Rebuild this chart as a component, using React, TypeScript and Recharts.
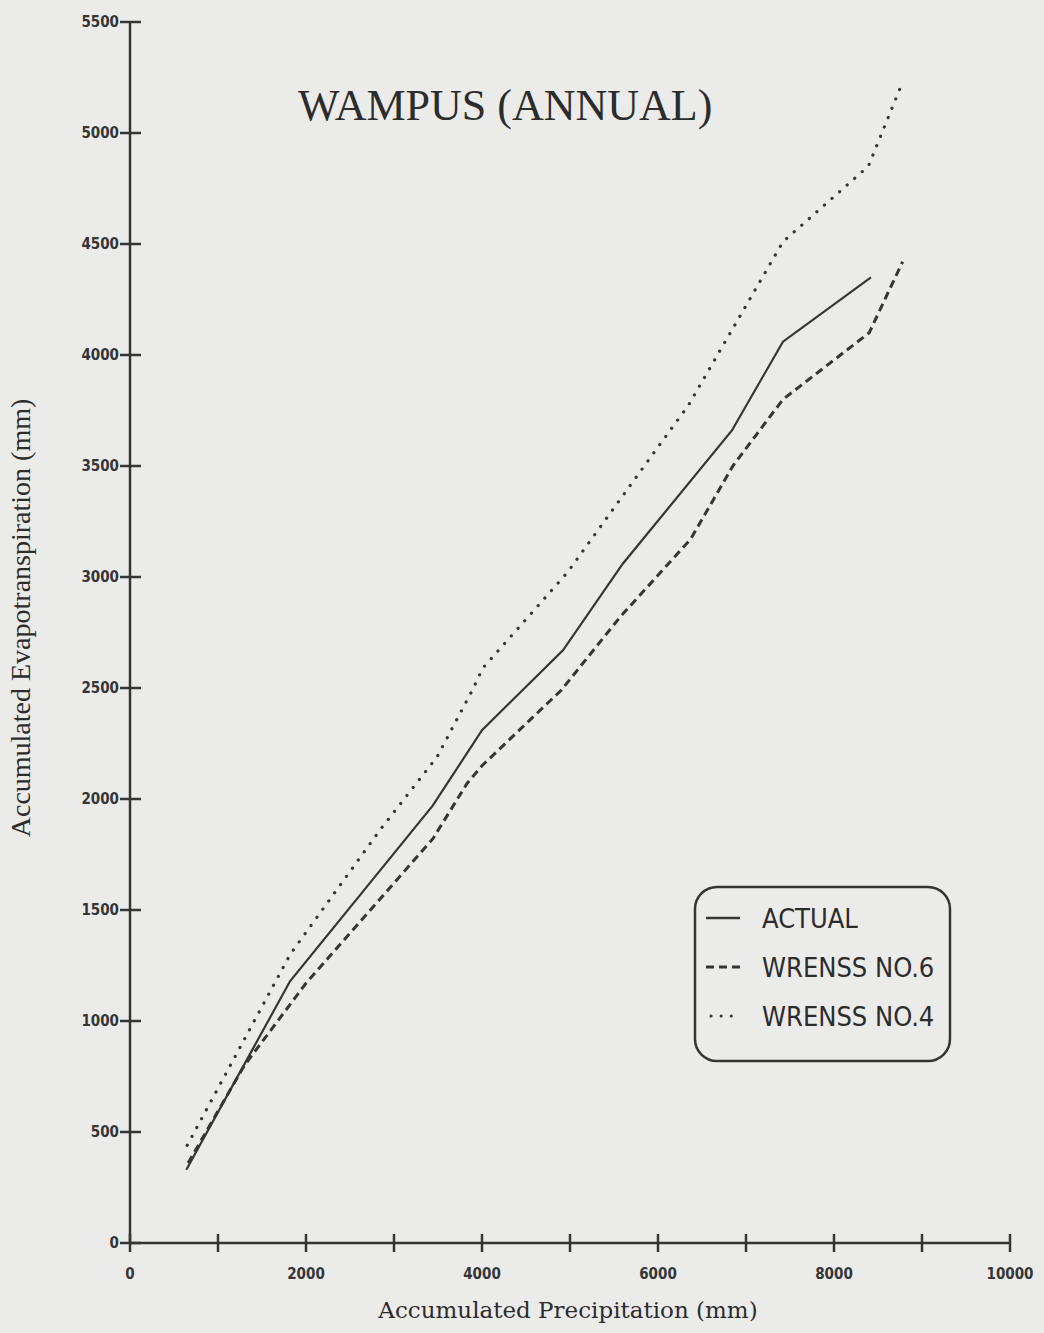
import React from 'react';
import { LineChart, Line, XAxis, YAxis, Label } from 'recharts';

// accumulated precipitation (x) and evapotranspiration (y), mm
const actualPrecip = [640, 1820, 3440, 4000, 4920, 5600, 6840, 7420, 8420];
const actualEt = [330, 1180, 1970, 2310, 2670, 3060, 3660, 4060, 4350];

const wrenss6Precip = [660, 1300, 2000, 3440, 3830, 4000, 4900, 5570, 6370, 6850, 7420, 8400, 8780];
const wrenss6Et = [360, 800, 1170, 1820, 2070, 2150, 2490, 2820, 3170, 3500, 3800, 4100, 4420];

const wrenss4Precip = [650, 1820, 2840, 3490, 3890, 4010, 4970, 5990, 6340, 7420, 8390, 8760];
const wrenss4Et = [440, 1300, 1860, 2190, 2490, 2590, 3020, 3580, 3770, 4510, 4850, 5210];

const xTicks = [0, 1000, 2000, 3000, 4000, 5000, 6000, 7000, 8000, 9000, 10000];
const yTicks = [0, 500, 1000, 1500, 2000, 2500, 3000, 3500, 4000, 4500, 5000, 5500];

const seriesNames = ['ACTUAL', 'WRENSS NO.6', 'WRENSS NO.4'];

const toPoints = (xs: number[], ys: number[]) => xs.map((x, i) => ({ x, y: ys[i] }));

const actualData = toPoints(actualPrecip, actualEt);
const wrenss6Data = toPoints(wrenss6Precip, wrenss6Et);
const wrenss4Data = toPoints(wrenss4Precip, wrenss4Et);

const INK = '#353535';
const BG = '#ebebea';
const NARROW = "'DejaVu Sans Condensed', sans-serif";

const XTick = (props: any) => {
    const { x, y, payload } = props;
    const v = payload.value;
    return (
        <g>
            <line x1={x} x2={x} y1={y - 9} y2={y + 9} stroke={INK} strokeWidth={2.5} />
            {v % 2000 === 0 && (
                <text x={x} y={y + 36} textAnchor="middle" fill={INK}
                    style={{ fontFamily: NARROW, fontWeight: 700, fontSize: 15 }}>
                    {v}
                </text>
            )}
        </g>
    );
};

const YTick = (props: any) => {
    const { x, y, payload } = props;
    return (
        <g>
            <line x1={x - 10} x2={x + 11} y1={y} y2={y} stroke={INK} strokeWidth={2.5} />
            <text x={x - 11} y={y + 5} textAnchor="end" fill={INK}
                style={{ fontFamily: NARROW, fontWeight: 700, fontSize: 15 }}>
                {payload.value}
            </text>
        </g>
    );
};

const App: React.FC = () => {
    return (
        <div style={{ position: 'absolute', left: 0, top: 0, width: 1044, height: 1333, background: BG }}>
            <LineChart width={1044} height={1333} margin={{ top: 22, right: 34, bottom: 30, left: 70 }}>
                <XAxis
                    dataKey="x"
                    type="number"
                    domain={[0, 10000]}
                    ticks={xTicks}
                    interval={0}
                    height={60}
                    tickSize={0}
                    tickMargin={0}
                    tickLine={false}
                    tick={<XTick />}
                    axisLine={{ stroke: INK, strokeWidth: 2.5 }}
                    allowDuplicatedCategory={false}
                >
                    <Label
                        content={() => (
                            <text x={568} y={1318} textAnchor="middle" fill="#2c2c2c"
                                style={{ fontFamily: 'DejaVu Serif', fontSize: 23 }}>
                                Accumulated Precipitation (mm)
                            </text>
                        )}
                    />
                </XAxis>
                <YAxis
                    type="number"
                    domain={[0, 5500]}
                    ticks={yTicks}
                    interval={0}
                    width={60}
                    tickSize={0}
                    tickMargin={0}
                    tickLine={false}
                    tick={<YTick />}
                    axisLine={{ stroke: INK, strokeWidth: 2.5 }}
                >
                    <Label
                        content={() => (
                            <text x={30} y={618} transform="rotate(-90 30 618)" textAnchor="middle" fill="#2c2c2c"
                                style={{ fontFamily: 'Liberation Serif', fontSize: 28 }}>
                                Accumulated Evapotranspiration (mm)
                            </text>
                        )}
                    />
                </YAxis>
                <Line data={actualData} dataKey="y" name={seriesNames[0]} type="linear" stroke={INK}
                    strokeWidth={2.2} dot={false} isAnimationActive={false} />
                <Line data={wrenss6Data} dataKey="y" name={seriesNames[1]} type="linear" stroke={INK}
                    strokeWidth={3} strokeDasharray="8 5" dot={false} isAnimationActive={false} />
                <Line data={wrenss4Data} dataKey="y" name={seriesNames[2]} type="linear" stroke={INK}
                    strokeWidth={3.2} strokeDasharray="0.1 10" strokeLinecap="round" dot={false} isAnimationActive={false} />
            </LineChart>
            <svg width={1044} height={1333} style={{ position: 'absolute', left: 0, top: 0, pointerEvents: 'none' }}>
                <text x={298} y={120} fill="#2c2c2c" style={{ fontFamily: 'Liberation Serif', fontSize: 44 }}>
                    WAMPUS (ANNUAL)
                </text>
                <rect x={695} y={887} width={255} height={174} rx={22} fill="none" stroke={INK} strokeWidth={2.5} />
                <line x1={706} x2={740} y1={918} y2={918} stroke={INK} strokeWidth={2.5} />
                <line x1={706} x2={740} y1={967} y2={967} stroke={INK} strokeWidth={3} strokeDasharray="8 5" />
                <line x1={711} x2={741} y1={1016} y2={1016} stroke={INK} strokeWidth={3}
                    strokeDasharray="0.1 10" strokeLinecap="round" />
                {seriesNames.map((n, i) => (
                    <text key={n} x={762} y={928 + i * 49} fill="#2c2c2c"
                        style={{ fontFamily: NARROW, fontSize: 27 }}>
                        {n}
                    </text>
                ))}
            </svg>
        </div>
    );
};

export default App;
